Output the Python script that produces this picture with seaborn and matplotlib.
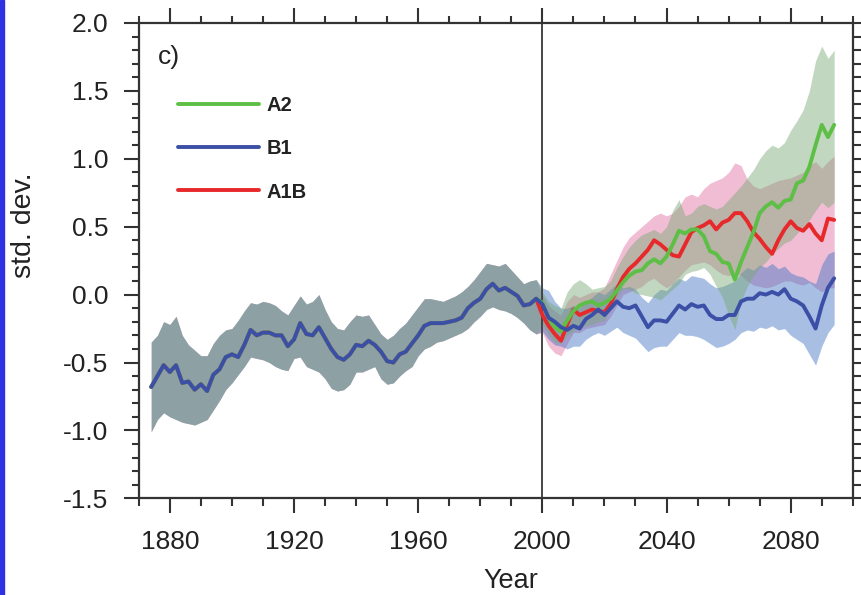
import numpy as np
import pandas as pd
import matplotlib
matplotlib.use("Agg")
import matplotlib.pyplot as plt
from matplotlib.ticker import MultipleLocator, FormatStrFormatter
from matplotlib.patches import Rectangle
import seaborn as sns

# ---- historical period (shared by all scenarios), 2-year steps ----
hist_years = np.arange(1874, 2000, 2)
hist_mean = [
    -0.68, -0.60, -0.52, -0.57, -0.52, -0.65, -0.64, -0.70, -0.66, -0.71,
    -0.59, -0.55, -0.46, -0.44, -0.46, -0.37, -0.26, -0.30, -0.28, -0.28,
    -0.30, -0.30, -0.38, -0.33, -0.21, -0.29, -0.30, -0.24, -0.32, -0.40,
    -0.46, -0.48, -0.44, -0.37, -0.38, -0.34, -0.37, -0.42, -0.49, -0.50,
    -0.44, -0.42, -0.36, -0.30, -0.23, -0.21, -0.21, -0.21, -0.20, -0.19,
    -0.17, -0.10, -0.06, -0.03, 0.04, 0.08, 0.03, 0.05, 0.02, -0.01,
    -0.08, -0.07, -0.03,
]
hist_upper = [
    -0.35, -0.30, -0.20, -0.22, -0.16, -0.30, -0.37, -0.41, -0.45, -0.45,
    -0.36, -0.30, -0.26, -0.25, -0.19, -0.12, -0.06, -0.07, -0.05, -0.06,
    -0.08, -0.12, -0.15, -0.08, -0.01, -0.07, -0.05, 0.00, -0.11, -0.20,
    -0.25, -0.26, -0.20, -0.15, -0.16, -0.15, -0.22, -0.29, -0.33, -0.30,
    -0.25, -0.21, -0.15, -0.09, -0.03, -0.03, -0.04, -0.05, -0.03, -0.01,
    0.02, 0.06, 0.11, 0.17, 0.23, 0.22, 0.21, 0.23, 0.18, 0.13,
    0.08, 0.10, 0.11,
]
hist_lower = [
    -1.01, -0.92, -0.87, -0.90, -0.92, -0.94, -0.95, -0.96, -0.94, -0.92,
    -0.85, -0.78, -0.70, -0.65, -0.59, -0.53, -0.46, -0.47, -0.48, -0.50,
    -0.53, -0.55, -0.56, -0.47, -0.46, -0.53, -0.55, -0.57, -0.62, -0.69,
    -0.71, -0.70, -0.66, -0.57, -0.57, -0.55, -0.53, -0.62, -0.66, -0.65,
    -0.60, -0.56, -0.53, -0.45, -0.40, -0.38, -0.35, -0.34, -0.32, -0.30,
    -0.28, -0.25, -0.20, -0.16, -0.11, -0.09, -0.11, -0.12, -0.14, -0.17,
    -0.21, -0.26, -0.29,
]

# ---- scenario projections, 2-year steps ----
fut_years = np.arange(2000, 2096, 2)

a2_mean = [
    -0.06, -0.17, -0.24, -0.27, -0.19, -0.12, -0.08, -0.06, -0.05, -0.08,
    -0.06, -0.03, 0.03, 0.09, 0.14, 0.17, 0.18, 0.23, 0.26, 0.23,
    0.28, 0.37, 0.47, 0.45, 0.48, 0.48, 0.43, 0.32, 0.30, 0.24,
    0.23, 0.11, 0.24, 0.35, 0.46, 0.60, 0.65, 0.68, 0.64, 0.69,
    0.70, 0.82, 0.84, 0.94, 1.10, 1.25, 1.16, 1.25,
]
a2_upper = [
    0.02, -0.05, -0.08, -0.10, 0.02, 0.08, 0.11, 0.08, 0.04, 0.05,
    0.06, 0.10, 0.20, 0.28, 0.35, 0.40, 0.44, 0.46, 0.48, 0.45,
    0.50, 0.62, 0.70, 0.58, 0.60, 0.65, 0.67, 0.65, 0.63, 0.65,
    0.70, 0.75, 0.80, 0.86, 0.92, 1.00, 1.06, 1.10, 1.08, 1.12,
    1.21, 1.28, 1.36, 1.50, 1.72, 1.83, 1.74, 1.80,
]
a2_lower = [
    -0.22, -0.30, -0.35, -0.36, -0.30, -0.27, -0.25, -0.23, -0.22, -0.20,
    -0.19, -0.10, -0.02, 0.04, 0.04, 0.01, 0.00, -0.01, -0.02, -0.04,
    0.00, 0.04, 0.08, 0.15, 0.17, 0.18, 0.20, 0.15, 0.06, -0.02,
    -0.15, -0.26, -0.05, 0.06, 0.14, 0.20, 0.24, 0.30, 0.34, 0.38,
    0.40, 0.45, 0.50, 0.55, 0.62, 0.68, 0.64, 0.68,
]

b1_mean = [
    -0.07, -0.17, -0.20, -0.24, -0.26, -0.23, -0.25, -0.18, -0.15, -0.11,
    -0.15, -0.10, -0.05, -0.09, -0.10, -0.08, -0.16, -0.24, -0.19, -0.19,
    -0.20, -0.14, -0.08, -0.11, -0.07, -0.09, -0.08, -0.15, -0.18, -0.18,
    -0.15, -0.15, -0.05, -0.03, -0.03, 0.01, 0.00, 0.02, 0.00, 0.04,
    -0.03, -0.05, -0.08, -0.16, -0.25, -0.08, 0.05, 0.12,
]
b1_upper = [
    0.05, 0.03, -0.05, -0.10, -0.10, -0.08, -0.10, -0.05, -0.02, 0.02,
    0.00, 0.04, 0.08, 0.05, 0.06, 0.04, -0.02, -0.06, 0.00, 0.04,
    0.03, 0.08, 0.12, 0.10, 0.14, 0.13, 0.12, 0.08, 0.05, 0.06,
    0.08, 0.10, 0.16, 0.20, 0.18, 0.22, 0.20, 0.23, 0.19, 0.21,
    0.16, 0.14, 0.13, 0.10, 0.08, 0.22, 0.30, 0.32,
]
b1_lower = [
    -0.27, -0.33, -0.37, -0.38, -0.40, -0.38, -0.38, -0.33, -0.30, -0.28,
    -0.30, -0.27, -0.24, -0.28, -0.30, -0.32, -0.37, -0.42, -0.39, -0.38,
    -0.38, -0.33, -0.28, -0.30, -0.30, -0.31, -0.33, -0.36, -0.39, -0.38,
    -0.36, -0.33, -0.28, -0.26, -0.27, -0.24, -0.25, -0.23, -0.26, -0.25,
    -0.30, -0.33, -0.36, -0.44, -0.52, -0.38, -0.28, -0.22,
]

a1b_mean = [
    -0.15, -0.23, -0.29, -0.34, -0.22, -0.11, -0.15, -0.13, -0.11, -0.12,
    -0.13, -0.07, 0.04, 0.13, 0.19, 0.23, 0.28, 0.33, 0.40, 0.37,
    0.33, 0.29, 0.28, 0.37, 0.46, 0.49, 0.51, 0.54, 0.48, 0.53,
    0.55, 0.60, 0.60, 0.54, 0.46, 0.41, 0.35, 0.30, 0.40, 0.48,
    0.54, 0.49, 0.47, 0.52, 0.45, 0.40, 0.56, 0.55,
]
a1b_upper = [
    0.00, -0.08, -0.12, -0.15, -0.05, 0.00, -0.02, 0.00, 0.02, 0.02,
    0.05, 0.15, 0.25, 0.35, 0.42, 0.46, 0.50, 0.54, 0.58, 0.60,
    0.58, 0.60, 0.65, 0.72, 0.74, 0.72, 0.78, 0.82, 0.84, 0.86,
    0.90, 0.97, 0.95, 0.85, 0.80, 0.78, 0.80, 0.82, 0.84, 0.85,
    0.86, 0.88, 0.90, 0.95, 0.98, 0.93, 0.98, 1.02,
]
a1b_lower = [
    -0.28, -0.38, -0.43, -0.45, -0.36, -0.28, -0.28, -0.25, -0.24, -0.23,
    -0.22, -0.16, -0.08, 0.00, 0.02, 0.04, 0.06, 0.10, 0.12, 0.08,
    0.05, 0.08, 0.13, 0.18, 0.22, 0.23, 0.24, 0.22, 0.18, 0.15,
    0.14, 0.16, 0.14, 0.10, 0.07, 0.06, 0.05, 0.06, 0.08, 0.10,
    0.10, 0.08, 0.07, 0.09, 0.05, 0.02, 0.05, 0.05,
]

scenario_names = ["A2", "B1", "A1B"]
line_colors = {"A2": "#5dbf45", "B1": "#3b4fa6", "A1B": "#e8292c"}
band_colors = {"A2": "#78a874", "B1": "#3e73c3", "A1B": "#de6ea0"}

scenarios = {
    "A2": (a2_mean, a2_lower, a2_upper),
    "B1": (b1_mean, b1_lower, b1_upper),
    "A1B": (a1b_mean, a1b_lower, a1b_upper),
}

years = np.concatenate([hist_years, fut_years])
frames = []
for name in scenario_names:
    m, lo, hi = scenarios[name]
    frames.append(pd.DataFrame({
        "year": years,
        "mean": np.concatenate([hist_mean, m]),
        "lower": np.concatenate([hist_lower, lo]),
        "upper": np.concatenate([hist_upper, hi]),
        "scenario": name,
    }))
df = pd.concat(frames, ignore_index=True)

sns.set_theme(style="white")
plt.rcParams["font.family"] = ["Liberation Sans", "DejaVu Sans"]
plt.rcParams["axes.unicode_minus"] = False

W, H = 861, 595
fig = plt.figure(figsize=(W / 100, H / 100), dpi=100)
fig.patch.set_facecolor("white")
ax = fig.add_axes([138.8 / W, 1 - 498.3 / H, 714 / W, 475.3 / H])

# spread envelopes (translucent, stacked)
for name in ["A1B", "B1", "A2"]:
    d = df[df["scenario"] == name]
    ax.fill_between(d["year"], d["lower"], d["upper"], color=band_colors[name],
                    alpha=0.45, linewidth=0, zorder=1)

# ensemble means
handles = {}
for name in ["A1B", "A2", "B1"]:
    d = df[df["scenario"] == name]
    sns.lineplot(data=d, x="year", y="mean", color=line_colors[name],
                 linewidth=2.8, ax=ax, legend=False, zorder=3)
    handles[name] = ax.lines[-1]

ax.axvline(2000, color="#444444", linewidth=1.4, zorder=2)

ax.set_xlim(1870, 2100)
ax.set_ylim(-1.5, 2.0)

ax.xaxis.set_major_locator(MultipleLocator(40))
ax.xaxis.set_minor_locator(MultipleLocator(10))
ax.yaxis.set_major_locator(MultipleLocator(0.5))
ax.yaxis.set_minor_locator(MultipleLocator(0.1))
ax.yaxis.set_major_formatter(FormatStrFormatter("%.1f"))

ax.tick_params(which="both", direction="out", top=True, right=True,
               bottom=True, left=True, color="#333333", width=1.5)
ax.tick_params(which="major", length=10.8, labelsize=19, labelcolor="#222222")
ax.tick_params(which="minor", length=5.4)
ax.tick_params(axis="x", which="major", pad=12)
ax.tick_params(axis="y", which="major", pad=11)
ax.tick_params(labeltop=False, labelright=False)

for s in ax.spines.values():
    s.set_color("#333333")
    s.set_linewidth(1.6)

ax.set_xlabel("Year", fontsize=19.5, color="#222222")
ax.set_ylabel("std. dev.", fontsize=20.5, color="#222222")
ax.xaxis.set_label_coords(0.521, -0.147)
ax.yaxis.set_label_coords(-0.143, 0.575)

ax.text(0.027, 0.928, "c)", transform=ax.transAxes, fontsize=19,
        va="center", ha="left", color="#222222")

leg = ax.legend([handles[n] for n in scenario_names], scenario_names,
                loc="upper left", bbox_to_anchor=(0.055, 0.846),
                frameon=False, prop={"size": 14.5, "weight": "bold"},
                handlelength=4.0, handletextpad=0.4, labelspacing=1.2,
                borderpad=0, borderaxespad=0)
for t in leg.get_texts():
    t.set_color("#222222")

# blue edge strip along the left border
fig.patches.append(Rectangle((0, 0), 4 / W, 1, transform=fig.transFigure,
                             color="#3131e4", zorder=10))

fig.savefig("out.png", dpi=100, facecolor="white")
